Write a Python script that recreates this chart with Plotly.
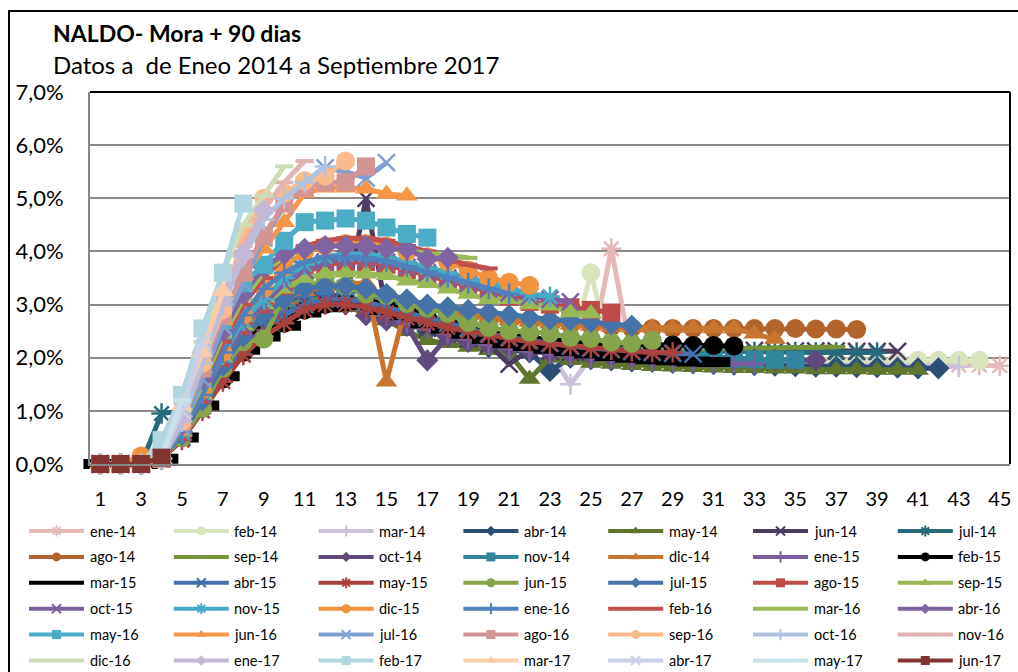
import plotly.graph_objects as go

W, H = 1018, 672
FONT = "Lato, 'Open Sans', sans-serif"

series_names = [
    "ene-14", "feb-14", "mar-14", "abr-14", "may-14", "jun-14", "jul-14",
    "ago-14", "sep-14", "oct-14", "nov-14", "dic-14", "ene-15", "feb-15",
    "mar-15", "abr-15", "may-15", "jun-15", "jul-15", "ago-15", "sep-15",
    "oct-15", "nov-15", "dic-15", "ene-16", "feb-16", "mar-16", "abr-16",
    "may-16", "jun-16", "jul-16", "ago-16", "sep-16", "oct-16", "nov-16",
    "dic-16", "ene-17", "feb-17", "mar-17", "abr-17", "may-17", "jun-17",
]

# Mora + 90 dias (%) by month on book, one list per vintage
ene_14 = [0, 0, 0, 0.1, 0.6, 1.3, 1.9, 2.4, 2.75, 3.0, 3.1, 3.15, 3.1, 3.0, 2.9, 2.75, 2.6, 2.5, 2.4, 2.3,
          2.25, 2.2, 2.15, 2.1, 2.05, 4.05, 2.0, 1.98, 1.97, 1.96, 1.95, 1.94, 1.93, 1.92, 1.91, 1.9, 1.9,
          1.89, 1.88, 1.88, 1.87, 1.87, 1.86, 1.86, 1.85]
feb_14 = [0, 0, 0, 0.1, 0.55, 1.2, 1.8, 2.35, 2.7, 2.95, 3.05, 3.1, 3.05, 2.95, 2.85, 2.7, 2.6, 2.5, 2.4, 2.3,
          2.25, 2.2, 2.15, 2.1, 3.6, 2.05, 2.02, 2.0, 1.99, 1.98, 1.98, 1.97, 1.97, 1.96, 1.96, 1.96, 1.95,
          1.95, 1.95, 1.95, 1.95, 1.95, 1.95, 1.95]
mar_14 = [0, 0, 0, 0.1, 0.6, 1.25, 1.85, 2.4, 2.75, 3.0, 3.1, 3.15, 3.1, 3.0, 2.9, 2.75, 2.6, 2.5, 2.4, 2.3,
          2.2, 2.15, 2.1, 1.5, 2.0, 1.98, 1.96, 1.95, 1.93, 1.92, 1.9, 1.9, 1.89, 1.88, 1.87, 1.86, 1.86,
          1.85, 1.85, 1.84, 1.84, 1.83, 1.83]
abr_14 = [0, 0, 0, 0.1, 0.55, 1.2, 1.8, 2.3, 2.65, 2.9, 3.0, 3.05, 3.0, 2.9, 2.8, 2.65, 2.5, 2.4, 2.3, 2.2,
          2.15, 2.1, 1.75, 2.0, 1.97, 1.95, 1.93, 1.92, 1.9, 1.89, 1.88, 1.87, 1.86, 1.85, 1.84, 1.83, 1.83,
          1.82, 1.82, 1.81, 1.8, 1.8]
may_14 = [0, 0, 0, 0.08, 0.5, 1.1, 1.7, 2.2, 2.55, 2.8, 2.95, 3.0, 2.95, 2.85, 2.7, 2.5, 2.33, 2.27, 2.2, 2.14,
          2.08, 1.6, 2.0, 1.95, 1.9, 1.88, 1.86, 1.84, 1.83, 1.82, 1.81, 1.8, 1.8, 1.79, 1.79, 1.78, 1.78,
          1.78, 1.77, 1.77, 1.77]
jun_14 = [0, 0, 0, 0.1, 0.6, 1.2, 1.85, 2.35, 2.7, 2.95, 3.05, 3.1, 3.05, 5.0, 2.85, 2.7, 2.55, 2.45, 2.35, 2.25,
          1.88, 2.15, 2.12, 2.1, 2.1, 2.12, 2.13, 2.14, 2.14, 2.14, 2.14, 2.14, 2.14, 2.13, 2.13, 2.13, 2.13,
          2.12, 2.12, 2.12]
jul_14 = [0, 0, 0, 0.95, 1.0, 1.4, 2.0, 2.45, 2.8, 3.05, 3.15, 3.2, 3.15, 3.05, 2.95, 2.8, 2.65, 2.55, 2.45, 2.35,
          2.3, 2.25, 2.2, 2.18, 2.16, 2.15, 2.14, 2.13, 2.12, 2.12, 2.12, 2.12, 2.11, 2.11, 2.11, 2.1, 2.1,
          2.1, 2.1]
ago_14 = [0, 0, 0, 0.1, 0.6, 1.3, 1.95, 2.5, 2.85, 3.1, 3.25, 3.3, 3.3, 3.25, 3.15, 3.05, 2.95, 2.85, 2.8, 2.75,
          2.7, 2.68, 2.65, 2.62, 2.6, 2.58, 2.56, 2.55, 2.55, 2.55, 2.55, 2.55, 2.55, 2.55, 2.55, 2.54, 2.54,
          2.53]
sep_14 = [0, 0, 0, 0.1, 0.55, 1.2, 1.85, 2.35, 2.7, 2.95, 3.05, 3.1, 3.05, 2.95, 2.85, 2.7, 2.55, 2.45, 2.35, 2.3,
          2.25, 2.22, 2.2, 2.18, 2.17, 2.16, 2.15, 2.15, 2.16, 2.16, 2.17, 2.17, 2.18, 2.18, 2.19, 2.19, 2.2]
oct_14 = [0, 0, 0, 0.1, 0.6, 1.3, 1.95, 2.5, 2.85, 3.1, 3.2, 3.2, 3.1, 2.8, 2.7, 2.6, 1.95, 2.4, 2.3, 2.25,
          2.2, 2.15, 2.1, 2.08, 2.05, 2.03, 2.02, 2.0, 2.0, 1.99, 1.98, 1.97, 1.97, 1.96, 1.96, 1.95]
nov_14 = [0, 0, 0, 0.1, 0.6, 1.3, 1.95, 2.5, 2.85, 3.15, 3.3, 3.35, 3.3, 3.2, 3.1, 2.95, 2.8, 2.7, 2.6, 2.5,
          2.4, 2.35, 2.3, 2.25, 2.2, 2.15, 2.1, 2.07, 2.05, 2.03, 2.0, 1.98, 1.97, 1.96, 1.96]
dic_14 = [0, 0, 0, 0.1, 0.6, 1.3, 1.95, 2.5, 2.85, 3.1, 3.25, 3.35, 3.4, 3.4, 1.55, 3.05, 2.95, 2.85, 2.8, 2.75,
          2.7, 2.67, 2.64, 2.62, 2.6, 2.58, 2.57, 2.57, 2.56, 2.56, 2.55, 2.55, 2.45, 2.35]
ene_15 = [0, 0, 0, 0.1, 0.55, 1.15, 1.75, 2.25, 2.6, 2.85, 3.0, 3.05, 3.0, 2.9, 2.8, 2.65, 2.55, 2.45, 2.35, 2.25,
          2.18, 2.12, 2.08, 2.04, 2.0, 1.98, 1.96, 1.94, 1.92, 1.91, 1.9, 1.89, 1.88]
feb_15 = [0, 0, 0, 0.1, 0.5, 1.05, 1.6, 2.1, 2.45, 2.65, 2.9, 3.0, 3.05, 3.05, 2.95, 2.85, 2.75, 2.65, 2.55, 2.48,
          2.42, 2.38, 2.34, 2.3, 2.28, 2.26, 2.25, 2.24, 2.24, 2.23, 2.23, 2.22]
mar_15 = [0, 0, 0, 0.1, 0.5, 1.1, 1.65, 2.15, 2.4, 2.6, 2.85, 2.95, 3.0, 3.0, 2.9, 2.8, 2.65, 2.55, 2.45, 2.35,
          2.27, 2.22, 2.17, 2.12, 2.08, 2.03, 2.0, 1.97, 1.95, 1.93, 1.92]
abr_15 = [0, 0, 0, 0.1, 0.5, 1.1, 1.7, 2.2, 2.55, 2.8, 3.0, 3.1, 3.1, 3.05, 2.95, 2.85, 2.75, 2.65, 2.55, 2.45,
          2.38, 2.32, 2.27, 2.22, 2.18, 2.15, 2.12, 2.1, 2.08, 2.07]
may_15 = [0, 0, 0, 0.1, 0.45, 1.0, 1.55, 2.05, 2.4, 2.65, 2.9, 3.0, 3.0, 2.95, 2.85, 2.75, 2.65, 2.57, 2.5, 2.42,
          2.36, 2.3, 2.26, 2.22, 2.18, 2.15, 2.12, 2.1, 2.1]
jun_15 = [0, 0, 0, 0.1, 0.5, 1.05, 1.8, 2.3, 2.35, 3.2, 3.4, 3.4, 3.35, 3.2, 3.17, 3.02, 2.93, 2.83, 2.66, 2.57,
          2.51, 2.48, 2.46, 2.38, 2.36, 2.29, 2.27, 2.33]
jul_15 = [0, 0, 0, 0.1, 0.55, 1.2, 1.85, 2.4, 2.8, 3.1, 3.3, 3.35, 3.35, 3.3, 3.2, 3.1, 3.0, 2.95, 2.9, 2.85,
          2.8, 2.75, 2.72, 2.7, 2.67, 2.63, 2.6]
ago_15 = [0, 0, 0, 0.1, 0.6, 1.3, 2.0, 2.6, 3.0, 3.35, 3.6, 3.75, 3.8, 3.8, 3.75, 3.65, 3.55, 3.45, 3.35, 3.25,
          3.15, 3.05, 3.0, 2.95, 2.9, 2.85]
sep_15 = [0, 0, 0, 0.1, 0.6, 1.3, 2.0, 2.6, 3.0, 3.3, 3.5, 3.58, 3.6, 3.58, 3.55, 3.45, 3.4, 3.3, 3.2, 3.1,
          3.1, 3.0, 2.98, 2.85, 2.83]
oct_15 = [0, 0, 0, 0.1, 0.6, 1.3, 2.0, 2.6, 3.0, 3.4, 3.65, 3.8, 3.85, 3.85, 3.8, 3.7, 3.6, 3.5, 3.4, 3.3,
          3.22, 3.15, 3.1, 3.05]
nov_15 = [0, 0, 0, 0.1, 0.6, 1.35, 2.05, 2.7, 3.1, 3.5, 3.75, 3.9, 3.95, 3.95, 3.9, 3.8, 3.7, 3.6, 3.5, 3.4,
          3.3, 3.2, 3.15]
dic_15 = [0, 0, 0.15, 0.2, 0.7, 1.4, 2.1, 2.8, 3.3, 3.7, 4.0, 4.1, 4.15, 4.15, 4.1, 4.0, 3.9, 3.8, 3.65, 3.5,
          3.42, 3.36]
ene_16 = [0, 0, 0, 0.1, 0.6, 1.3, 2.1, 2.8, 3.3, 3.6, 3.8, 3.9, 3.9, 3.88, 3.82, 3.72, 3.62, 3.52, 3.4, 3.3, 3.2]
feb_16 = [0, 0, 0, 0.1, 0.7, 1.5, 2.3, 3.0, 3.5, 3.9, 4.1, 4.2, 4.25, 4.25, 4.2, 4.1, 4.0, 3.85, 3.75, 3.68]
mar_16 = [0, 0, 0, 0.1, 0.7, 1.5, 2.4, 3.1, 3.6, 3.9, 4.05, 4.1, 4.12, 4.1, 4.05, 4.0, 3.95, 3.92, 3.88]
abr_16 = [0, 0, 0, 0.1, 0.75, 1.6, 2.5, 3.2, 3.7, 3.95, 4.05, 4.1, 4.1, 4.1, 4.05, 4.05, 3.86, 3.88]
may_16 = [0, 0, 0, 0.15, 0.8, 1.8, 2.7, 3.4, 3.75, 4.2, 4.55, 4.58, 4.62, 4.58, 4.45, 4.33, 4.26]
jun_16 = [0, 0, 0, 0.1, 0.8, 1.8, 2.7, 3.55, 4.05, 4.55, 5.1, 5.2, 5.2, 5.18, 5.08, 5.05]
jul_16 = [0, 0, 0, 0.1, 0.7, 1.6, 2.6, 3.4, 4.25, 4.85, 5.25, 5.57, 5.5, 5.38, 5.67]
ago_16 = [0, 0, 0, 0.1, 0.8, 1.8, 2.8, 3.6, 4.3, 4.9, 5.2, 5.3, 5.3, 5.6]
sep_16 = [0, 0, 0, 0.1, 0.8, 1.9, 2.9, 4.3, 5.0, 5.1, 5.33, 5.42, 5.7]
oct_16 = [0, 0, 0, 0.1, 0.8, 1.9, 3.0, 3.9, 4.6, 5.0, 5.3, 5.6]
nov_16 = [0, 0, 0, 0.1, 0.9, 2.1, 3.2, 4.1, 4.8, 5.3, 5.7]
dic_16 = [0, 0, 0, 0.1, 1.0, 2.3, 3.6, 4.5, 5.05, 5.6]
ene_17 = [0, 0, 0, 0.1, 0.9, 2.1, 3.1, 3.95, 4.77]
feb_17 = [0, 0, 0, 0.45, 1.3, 2.55, 3.6, 4.9]
mar_17 = [0, 0, 0, 0.1, 1.1, 2.1, 3.25]
abr_17 = [0, 0, 0, 0.15, 1.0, 2.3]
may_17 = [0, 0, 0, 0.15, 1.2]
jun_17 = [0, 0, 0, 0.12]

series_values = [
    ene_14, feb_14, mar_14, abr_14, may_14, jun_14, jul_14,
    ago_14, sep_14, oct_14, nov_14, dic_14, ene_15, feb_15,
    mar_15, abr_15, may_15, jun_15, jul_15, ago_15, sep_15,
    oct_15, nov_15, dic_15, ene_16, feb_16, mar_16, abr_16,
    may_16, jun_16, jul_16, ago_16, sep_16, oct_16, nov_16,
    dic_16, ene_17, feb_17, mar_17, abr_17, may_17, jun_17,
]

series_colors = [
    "#E6B9B8", "#D7E4BD", "#CCC1DA", "#2C4D75", "#5F7530", "#4D3B62", "#276A7C",
    "#B3642B", "#77933C", "#604A7B", "#31859C", "#C8762F", "#7B5EA0", "#000000",
    "#000000", "#4470AE", "#A9423F", "#86A44A", "#4572A7", "#BE4B48", "#98B954",
    "#7D5FA0", "#46AAC5", "#F1923F", "#4F81BD", "#C0504D", "#9BBB59", "#8064A2",
    "#4BACC6", "#F79646", "#7F9FD0", "#D39594", "#FABA8C", "#AFC3E0", "#DFB3B2",
    "#CEDDB5", "#C3B9D6", "#B3D5E0", "#FBCBAA", "#C9D0E8", "#C8E2EA", "#833330",
]

series_markers = [
    "asterisk", "circle", "plus", "diamond", "triangle", "x", "asterisk",
    "circle", "dash", "diamond", "square", "triangle", "plus", "circle",
    "bigdash", "x", "asterisk", "circle", "diamond", "square", "triangle",
    "x", "asterisk", "circle", "plus", "dash", "dash", "diamond",
    "square", "triangle", "x", "square", "circle", "plus", "dash",
    "dash", "diamond", "square", "triangle", "x", "dash", "square",
]

# symbol, size in plot, size in legend, outline width (open symbols)
SYM = {
    "asterisk": ("asterisk-open", 17, 9, 2.5),
    "circle": ("circle", 19, 9, 0),
    "plus": ("cross-thin-open", 15, 8, 2.5),
    "diamond": ("diamond", 17, 8, 0),
    "triangle": ("triangle-up", 19, 9, 0),
    "x": ("x-thin-open", 17, 9, 2.5),
    "square": ("square", 18, 9, 0),
    "dash": ("line-ew-open", 13, 6, 4),
    "bigdash": ("line-ew-open", 24, 12, 10),
}

fig = go.Figure()

for name, vals, col, mk in zip(series_names, series_values, series_colors, series_markers):
    sym, size, _, lw = SYM[mk]
    fig.add_trace(go.Scatter(
        x=list(range(1, len(vals) + 1)), y=vals, name=name,
        mode="lines+markers",
        line=dict(color=col, width=5),
        marker=dict(symbol=sym, size=size, color=col, line=dict(color=col, width=lw)),
        cliponaxis=False, showlegend=False, hoverinfo="skip",
    ))

# custom legend grid (7 columns) drawn on its own hidden axes
NCOL = 7
for i, (name, col, mk) in enumerate(zip(series_names, series_colors, series_markers)):
    c, r = i % NCOL, i // NCOL
    sym, _, lsize, lw = SYM[mk]
    fig.add_trace(go.Scatter(
        x=[c, c + 0.38], y=[-r, -r], xaxis="x2", yaxis="y2", mode="lines",
        line=dict(color=col, width=4), showlegend=False, hoverinfo="skip",
    ))
    fig.add_trace(go.Scatter(
        x=[c + 0.19], y=[-r], xaxis="x2", yaxis="y2", mode="markers",
        marker=dict(symbol=sym, size=lsize, color=col, line=dict(color=col, width=min(lw, 2) if lw else 0)),
        showlegend=False, hoverinfo="skip",
    ))
    fig.add_annotation(
        x=c + 0.405, y=-r, xref="x2", yref="y2", text=name, showarrow=False,
        xanchor="left", yanchor="middle", font=dict(family=FONT, size=14.5, color="black"),
    )

# titles
fig.add_annotation(
    x=51 / W, y=1 - 33 / H, xref="paper", yref="paper", text="<b>NALDO- Mora + 90 dias</b>",
    showarrow=False, xanchor="left", yanchor="middle", font=dict(family=FONT, size=23, color="black"),
)
fig.add_annotation(
    x=51 / W, y=1 - 64 / H, xref="paper", yref="paper", text="Datos a  de Eneo 2014 a Septiembre 2017",
    showarrow=False, xanchor="left", yanchor="middle", font=dict(family=FONT, size=24, color="black"),
)

fig.update_layout(
    width=W, height=H, margin=dict(l=0, r=0, t=0, b=0, autoexpand=False),
    paper_bgcolor="white", plot_bgcolor="white", separators=",.",
    showlegend=False,
    xaxis=dict(
        domain=[90 / W, 1010 / W], range=[0.5, 45.5], tickvals=list(range(1, 46, 2)),
        ticks="", showgrid=False, showline=True, linecolor="#868686", linewidth=2,
        zeroline=False, tickfont=dict(family=FONT, size=20, color="black"),
        ticklabelstandoff=16, anchor="y", fixedrange=True, automargin=False,
    ),
    yaxis=dict(
        domain=[1 - 464 / H, 1 - 92 / H], range=[0, 7], dtick=1, tickformat=".1f", ticksuffix="%",
        ticks="", showgrid=True, gridcolor="#8A8A8A", gridwidth=2, showline=True,
        linecolor="#868686", linewidth=2, zeroline=False,
        tickfont=dict(family=FONT, size=22, color="black"), ticklabelstandoff=20,
        anchor="x", fixedrange=True, automargin=False,
    ),
    xaxis2=dict(domain=[0, 1], range=[-29 / 144.8, (W - 29) / 144.8], visible=False,
                anchor="y2", fixedrange=True, automargin=False),
    yaxis2=dict(domain=[0, 1 - 515 / H], range=[-(H - 531) / 25.9, 16 / 25.9], visible=False,
                anchor="x2", fixedrange=True, automargin=False),
    shapes=[
        dict(type="rect", xref="paper", yref="paper", x0=9 / W, x1=1.05, y0=-0.05, y1=1 - 11 / H,
             line=dict(color="black", width=2), layer="below"),
        dict(type="line", xref="paper", yref="paper", x0=90 / W, x1=1010 / W, y0=1 - 92 / H, y1=1 - 92 / H,
             line=dict(color="black", width=2)),
        dict(type="line", xref="paper", yref="paper", x0=1010 / W, x1=1010 / W, y0=1 - 92 / H, y1=1 - 464 / H,
             line=dict(color="black", width=2)),
    ],
)

fig.write_html(
    "out.html",
    config={"displayModeBar": False, "staticPlot": True},
    post_script="document.body.style.margin='0';document.body.style.overflow='hidden';",
)
